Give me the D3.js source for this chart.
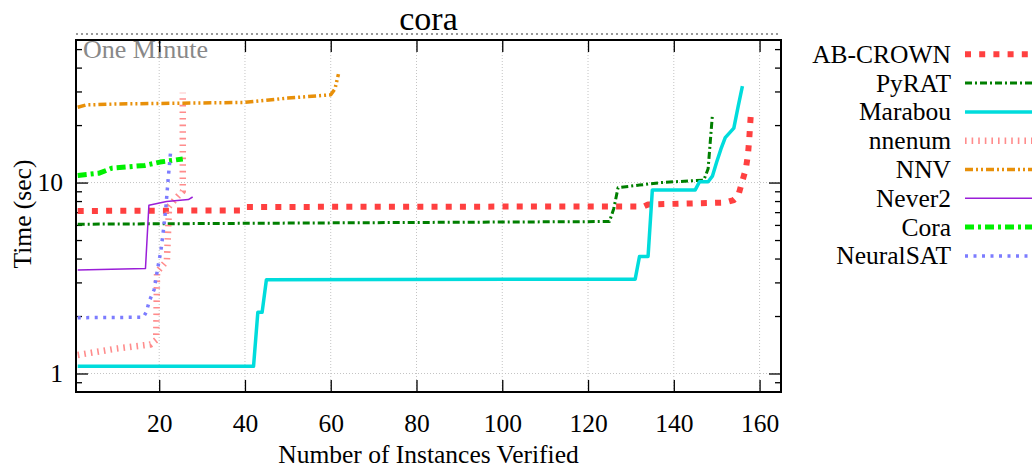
<!DOCTYPE html>
<html><head><meta charset="utf-8">
<script src="https://cdn.jsdelivr.net/npm/d3@7"></script>
<style>
html,body{margin:0;padding:0;background:#fff;}
svg{display:block;font-family:"Liberation Serif","DejaVu Serif",serif;}
</style></head>
<body><svg id="c" width="1032" height="470"></svg>
<script>
// ---- data (x = instances verified, y = time in seconds) ----
const seriesNames = ["AB-CROWN","PyRAT","Marabou","nnenum","NNV","Never2","Cora","NeuralSAT"];
const abcrown = [[1,7.1],[39,7.15],[40,7.45],[133,7.5],[134,7.68],[152,7.85],[154,8.1],[155,8.5],[156,10.2],[156.8,11.8],[157.3,14],[157.6,17],[158,23.5]];
const pyrat = [[1,6.05],[60,6.15],[125,6.25],[126,7.3],[127,9.4],[132,9.7],[137,10.0],[147,10.3],[148,11.8],[149,22.5]];
const marabou = [[1,1.09],[42,1.09],[43,2.09],[44,2.09],[45,3.1],[131,3.12],[132,4.1],[134,4.1],[135,9.15],[145,9.15],[146,10.1],[148,10.1],[149,10.8],[150,12.8],[151,15],[152,17.2],[153,18.2],[154,19.3],[155,25],[156,32]];
const nnenum = [[1,1.25],[10,1.35],[18,1.42],[19.3,1.5],[19.5,3.4],[21.8,3.9],[22.3,7.5],[24.4,8.5],[25.5,9.0],[25.5,29.5]];
const nnv = [[1,24.8],[3,25.5],[10,25.8],[40,26.3],[45,27],[50,27.7],[60,28.8],[61,31],[61.8,37]];
const never2 = [[1,3.48],[16.8,3.55],[17.6,7.6],[21.7,7.95],[26.8,8.15],[27.8,8.4]];
const cora = [[1,10.9],[6,11.2],[9,11.9],[16.7,12.3],[20.2,12.8],[25.5,13.3]];
const neuralsat = [[1,1.96],[16.3,1.97],[17,2.1],[17.7,2.4],[18.8,2.74],[19.6,3.5],[20.4,4.4],[21.1,5.9],[21.6,7.6],[22.1,10.5],[22.7,14.8]];
const xTicks = [20,40,60,80,100,120,140,160];
const yMajor = [1,10];
const yMinor = [0.9,2,3,4,5,6,7,8,9,20,30,40,50];
const oneMinute = 60;
const titleText = "cora";
const xLabel = "Number of Instances Verified";
const yLabel = "Time (sec)";

// ---- styles ----
const styles = [
  {c:"#ff4040", w:6,   d:"6,8.2"},
  {c:"#007f00", w:3,   d:"7,3,2,3"},
  {c:"#00dcdc", w:3.5, d:null},
  {c:"#ff8c8c", w:6.5, d:"1.6,5"},
  {c:"#e8900a", w:3.5, d:"8,3,2,3,2,3"},
  {c:"#9a1ed8", w:1.5, d:null},
  {c:"#00f000", w:5,   d:"9,4,3,4"},
  {c:"#7c7cff", w:3.5, d:"3,5.5"}
];
const data = [abcrown,pyrat,marabou,nnenum,nnv,never2,cora,neuralsat];

const L=76, R=781, T=40, B=392;
const x = d3.scaleLinear().domain([0.6,165]).range([L,R]);
const y = d3.scaleLog().domain([0.8,55.8]).range([B,T]);
const svg = d3.select("#c");
const FS = 25.5;

// grid
const grid = svg.append("g").attr("stroke","#c4c4c4").attr("stroke-width",1).attr("stroke-dasharray","1,2");
grid.selectAll("line.vx").data(xTicks).enter().append("line")
  .attr("x1",d=>x(d)).attr("x2",d=>x(d)).attr("y1",T).attr("y2",B);
grid.selectAll("line.hy").data(yMajor).enter().append("line")
  .attr("x1",L).attr("x2",R).attr("y1",d=>y(d)).attr("y2",d=>y(d));

// one-minute line
svg.append("line").attr("x1",L).attr("x2",R).attr("y1",y(oneMinute)).attr("y2",y(oneMinute))
  .attr("stroke","#999").attr("stroke-width",2).attr("stroke-dasharray","2,3");
svg.append("text").attr("x",L+7).attr("y",T+18).attr("font-size",26).attr("fill","#888").text("One Minute");

// axes
function styleAxis(g){ g.select(".domain").remove(); g.selectAll("line").attr("stroke","#000").attr("stroke-width",1.3);
  g.selectAll("text").attr("font-family","Liberation Serif, DejaVu Serif, serif").attr("font-size",FS).attr("fill","#000"); }
svg.append("g").attr("transform",`translate(0,${B})`)
  .call(d3.axisBottom(x).tickValues(xTicks).tickSizeInner(-12).tickSizeOuter(0).tickPadding(21.5).tickFormat(d3.format("d")))
  .call(styleAxis);
svg.append("g").attr("transform",`translate(0,${T})`)
  .call(d3.axisTop(x).tickValues(xTicks).tickSizeInner(-12).tickSizeOuter(0).tickFormat(""))
  .call(styleAxis);
svg.append("g").attr("transform",`translate(${L},0)`)
  .call(d3.axisLeft(y).tickValues(yMajor).tickSizeInner(-12).tickSizeOuter(0).tickPadding(13).tickFormat(d3.format("d")))
  .call(styleAxis);
svg.append("g").attr("transform",`translate(${L},0)`)
  .call(d3.axisLeft(y).tickValues(yMinor).tickSizeInner(-6).tickSizeOuter(0).tickFormat(""))
  .call(styleAxis);
svg.append("g").attr("transform",`translate(${R},0)`)
  .call(d3.axisRight(y).tickValues(yMajor).tickSizeInner(-12).tickSizeOuter(0).tickFormat(""))
  .call(styleAxis);
svg.append("g").attr("transform",`translate(${R},0)`)
  .call(d3.axisRight(y).tickValues(yMinor).tickSizeInner(-6).tickSizeOuter(0).tickFormat(""))
  .call(styleAxis);

// series
svg.append("defs").append("clipPath").attr("id","pc").append("rect").attr("x",L).attr("y",T).attr("width",R-L).attr("height",B-T);
const line = d3.line().x(d=>x(d[0])).y(d=>y(d[1]));
const sg = svg.append("g").attr("clip-path","url(#pc)");
data.forEach((s,i)=>{
  sg.append("path").datum(s).attr("d",line).attr("fill","none")
    .attr("stroke",styles[i].c).attr("stroke-width",styles[i].w)
    .attr("stroke-dasharray",styles[i].d).attr("stroke-linejoin","round");
});

// border
svg.append("rect").attr("x",L).attr("y",T).attr("width",R-L).attr("height",B-T)
  .attr("fill","none").attr("stroke","#000").attr("stroke-width",2);

// title and labels
svg.append("text").attr("x",(L+R)/2).attr("y",29.5).attr("text-anchor","middle").attr("font-size",34).text(titleText);
svg.append("text").attr("x",(L+R)/2).attr("y",463).attr("text-anchor","middle").attr("font-size",FS).text(xLabel);
svg.append("text").attr("transform","translate(31,214) rotate(-90)").attr("text-anchor","middle").attr("font-size",FS).text(yLabel);

// legend
const lg = svg.append("g");
seriesNames.forEach((n,i)=>{
  const yy = 54.3 + i*28.8;
  lg.append("text").attr("x",951).attr("y",yy).attr("dy","0.33em").attr("text-anchor","end").attr("font-size",FS).text(n);
  lg.append("line").attr("x1",965).attr("x2",1045).attr("y1",yy).attr("y2",yy)
    .attr("stroke",styles[i].c).attr("stroke-width",styles[i].w).attr("stroke-dasharray",styles[i].d);
});
</script></body></html>
